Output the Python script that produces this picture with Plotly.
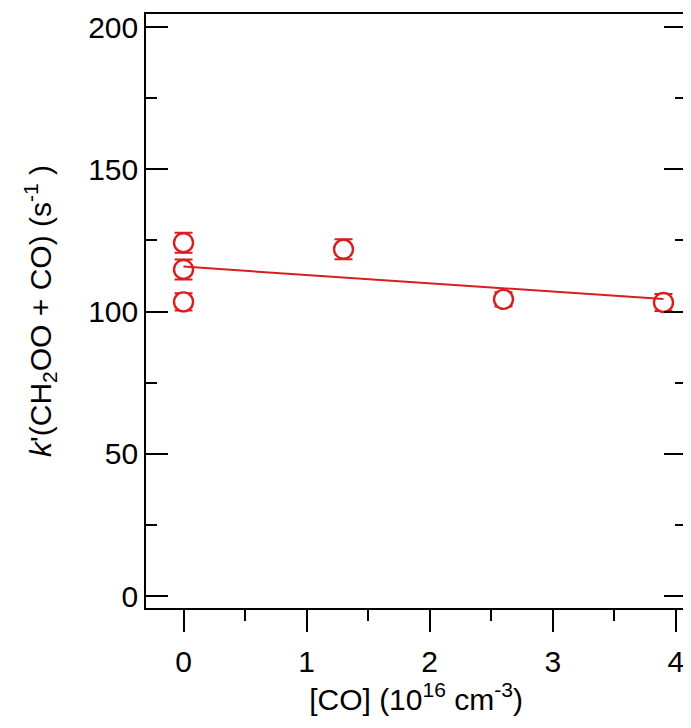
import plotly.graph_objects as go

# Data
co_conc = [0.0, 0.0, 0.0, 1.3, 2.6, 3.9]          # [CO] (1e16 cm^-3)
k_prime = [124.2, 114.8, 103.4, 121.9, 104.3, 103.2]  # k' (s^-1)
k_err = [3.5, 3.5, 3.0, 3.5, 2.5, 3.0]

fit_x = [0.0, 3.9]
fit_y = [115.8, 104.4]

x_ticks = [0, 1, 2, 3, 4]
y_ticks = [0, 50, 100, 150, 200]

RED = "#d81e1e"
FONT = "Liberation Sans, Arial, sans-serif"

fig = go.Figure()
fig.add_trace(go.Scatter(
    x=co_conc, y=k_prime, mode="markers",
    marker=dict(symbol="circle", size=19, color="white", line=dict(width=2.4, color=RED)),
    error_y=dict(type="data", array=k_err, color=RED, thickness=2, width=9),
    showlegend=False))
fig.add_trace(go.Scatter(
    x=fit_x, y=fit_y, mode="lines",
    line=dict(color=RED, width=2), showlegend=False, hoverinfo="skip"))

fig.update_layout(
    width=683, height=720,
    margin=dict(l=138, r=3, t=6, b=120),
    paper_bgcolor="white", plot_bgcolor="white",
    font=dict(family=FONT, size=30, color="black"),
)
fig.update_xaxes(
    range=[-0.305, 4.083], tickvals=x_ticks, ticktext=[str(v) for v in x_ticks],
    showgrid=False, zeroline=False,
    showline=True, linecolor="black", linewidth=1.6, mirror=True,
    ticks="outside", ticklen=22, tickwidth=1.6, tickcolor="black",
    minor=dict(dtick=0.5, ticks="outside", ticklen=11, tickwidth=1.6, tickcolor="black", showgrid=False),
    tickfont=dict(size=30), ticklabelstandoff=4,
    title=dict(text="[CO] (10<sup>16</sup> cm<sup>-3</sup>)", font=dict(size=30), standoff=12),
)
fig.update_yaxes(
    range=[-4.2, 204.6], tickvals=y_ticks, ticktext=[str(v) for v in y_ticks],
    showgrid=False, zeroline=False,
    showline=True, linecolor="black", linewidth=1.6, mirror="ticks",
    ticks="inside", ticklen=22, tickwidth=1.6, tickcolor="black",
    minor=dict(dtick=25, ticks="inside", ticklen=11, tickwidth=1.6, tickcolor="black", showgrid=False),
    tickfont=dict(size=30),
    title=dict(text="<i>k</i>'(CH<sub>2</sub>OO + CO) (s<sup>-1</sup> )", font=dict(size=30), standoff=28),
)

fig.write_html("out.html")
